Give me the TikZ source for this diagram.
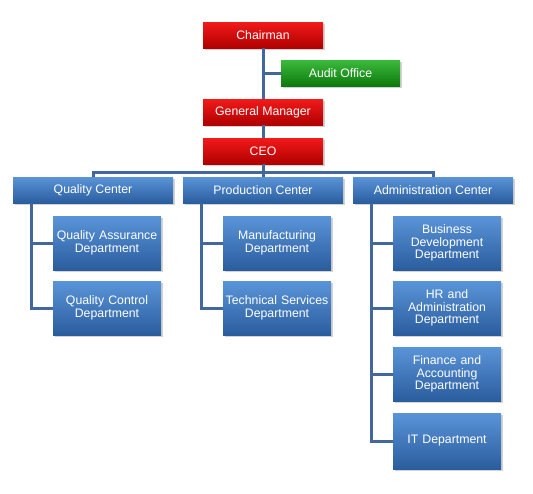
\documentclass[tikz,border=0pt]{standalone}
\usepackage{fontspec}
\setmainfont{Liberation Sans}
\usetikzlibrary{shadows}
\definecolor{lineblue}{HTML}{41679C}
\definecolor{bluetop}{HTML}{5A94D8}
\definecolor{bluemid}{HTML}{3D7BC4}
\definecolor{bluebot}{HTML}{2A5D9E}
\definecolor{redtop}{HTML}{F21A1A}
\definecolor{redmid}{HTML}{DD0808}
\definecolor{redbot}{HTML}{B00000}
\definecolor{greentop}{HTML}{3CBA3C}
\definecolor{greenmid}{HTML}{1E9E1E}
\definecolor{greenbot}{HTML}{0D7A0D}
\tikzset{
  box/.style={draw=none, minimum height=26pt, inner sep=1pt, align=center,
    text=white, font=\fontsize{12.3}{12.5}\selectfont,
    drop shadow={shadow xshift=2pt, shadow yshift=-2pt, opacity=0.35}},
  redbox/.style={box, top color=redtop, middle color=redmid, bottom color=redbot, minimum width=120pt},
  greenbox/.style={box, top color=greentop, middle color=greenmid, bottom color=greenbot, minimum width=119pt},
  centerbox/.style={box, top color=bluetop, middle color=bluemid, bottom color=bluebot, minimum width=160pt},
  deptbox/.style={box, top color=bluetop, middle color=bluemid, bottom color=bluebot, minimum width=108pt,
    minimum height=54pt, text width=104pt},
  conn/.style={draw=lineblue, line width=3pt}
}
\begin{document}
\begin{tikzpicture}[x=1pt,y=-1pt]
\useasboundingbox (0,0) rectangle (533,493);
\coordinate (bus) at (263,172);
\coordinate (qline) at (31,203);
\coordinate (pline) at (201,203);
\coordinate (aline) at (371,203);
% nodes
\node[redbox] (chair) at (263,35) {Chairman};
\node[greenbox] (audit) at (340.5,73) {Audit Office};
\node[redbox] (gm) at (263,112) {General Manager};
\node[redbox] (ceo) at (263,151) {CEO};
\node[centerbox] (qc) at (93,190) {Quality Center};
\node[centerbox] (pc) at (263,190) {Production Center};
\node[centerbox] (ac) at (433,190) {Administration Center};
\node[deptbox] (qa) at (107,243) {Quality Assurance\\Department};
\node[deptbox] (qcd) at (107,308) {Quality Control\\Department};
\node[deptbox] (mfg) at (277,243) {Manufacturing\\Department};
\node[deptbox] (tsd) at (277,308) {Technical Services\\Department};
\node[deptbox] (bdd) at (447,243) {Business\\Development\\Department};
\node[deptbox] (hrd) at (447,308) {HR and\\Administration\\Department};
\node[deptbox] (fad) at (447,374) {Finance and\\Accounting\\Department};
\node[deptbox, minimum height=56pt] (itd) at (447,441) {IT Department};
% connectors
\draw[conn] (chair.south) -- (gm.north);
\draw[conn] (gm.south) -- (ceo.north);
\draw[conn] (audit.west) -- (audit.west -| chair.south);
\draw[conn] (ceo.south) -- (pc.north);
\draw[conn] (qc.north) |- (bus) -| (ac.north);
\draw[conn] (qline) |- (qcd.west);
\draw[conn] (qline |- qa.west) -- (qa.west);
\draw[conn] (pline) |- (tsd.west);
\draw[conn] (pline |- mfg.west) -- (mfg.west);
\draw[conn] (aline) |- (itd.west);
\draw[conn] (aline |- bdd.west) -- (bdd.west);
\draw[conn] (aline |- hrd.west) -- (hrd.west);
\draw[conn] (aline |- fad.west) -- (fad.west);
\end{tikzpicture}
\end{document}
